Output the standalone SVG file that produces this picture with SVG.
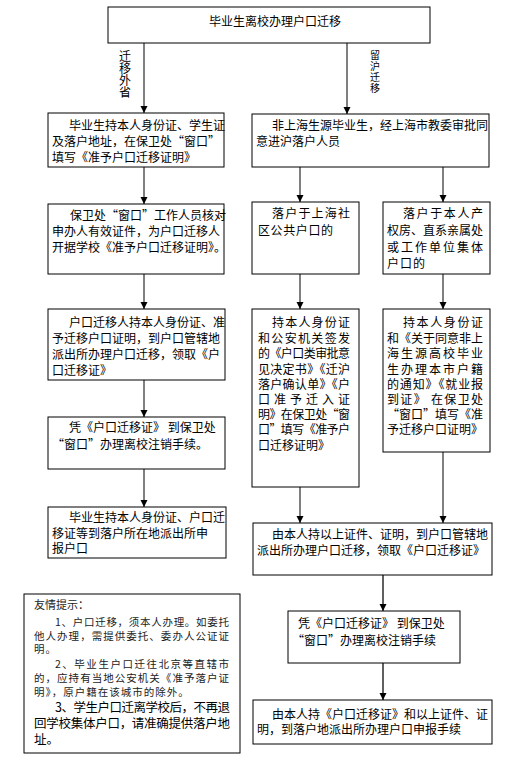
<svg xmlns="http://www.w3.org/2000/svg" width="518" height="758" viewBox="0 0 518 758">
<defs>
<marker id="ah" markerUnits="userSpaceOnUse" markerWidth="8" markerHeight="8" refX="7" refY="3.5" orient="auto">
<path d="M0,0 L7,3.5 L0,7 z" fill="#000"/>
</marker>
<style>
.box{fill:#fff;stroke:#000;stroke-width:1}
text{font-family:"Noto Sans CJK SC","Noto Sans",sans-serif;font-size:12px;fill:#000}
.c{stroke:#000;stroke-width:1;fill:none;marker-end:url(#ah)}
.g{stroke:#808080;stroke-width:2;fill:none;marker-end:url(#ah)}
.s{font-size:10.5px;fill:#222;letter-spacing:1px}
.vt{writing-mode:vertical-rl}
</style>
</defs>
<rect width="518" height="758" fill="#fff"/>

<g id="connectors">
<line class="g" x1="144" y1="43" x2="144" y2="113"/>
<line class="c" x1="347" y1="43" x2="347" y2="114"/>
<line class="g" x1="144" y1="167" x2="144" y2="204"/>
<line class="g" x1="144" y1="274" x2="144" y2="309"/>
<line class="g" x1="144" y1="380" x2="144" y2="417"/>
<line class="g" x1="144" y1="469" x2="144" y2="507"/>
<line class="c" x1="300" y1="167" x2="300" y2="202"/>
<line class="g" x1="443" y1="167" x2="443" y2="202"/>
<line class="c" x1="300" y1="274" x2="300" y2="309"/>
<line class="g" x1="443" y1="274" x2="443" y2="309"/>
<line class="c" x1="300" y1="487" x2="300" y2="523"/>
<line class="g" x1="443" y1="452" x2="443" y2="523"/>
<line class="g" x1="383" y1="575" x2="383" y2="611" style="stroke:#606060"/>
<line class="g" x1="383" y1="663" x2="383" y2="700" style="stroke:#606060"/>
</g>

<g id="labels">
<text class="vt" x="125" y="50">迁移外省</text>
<text class="vt" x="375" y="50" style="font-size:10px;letter-spacing:1px">留沪迁移</text>
</g>

<g id="title">
<rect class="box" x="108" y="7" width="322" height="36"/>
<text x="275" y="25.5" text-anchor="middle">毕业生离校办理户口迁移</text>
</g>

<g id="L1">
<rect class="box" x="48" y="113" width="176" height="54"/>
<text x="69" y="130">毕业生持本人身份证、学生证</text>
<text x="52" y="146">及落户地址，在保卫处“窗口”</text>
<text x="52" y="162">填写《准予户口迁移证明》</text>
</g>

<g id="L2">
<rect class="box" x="48" y="204" width="176" height="70"/>
<text x="70" y="220">保卫处“窗口”工作人员核对</text>
<text x="52" y="236">申办人有效证件，为户口迁移人</text>
<text x="52" y="252">开据学校《准予户口迁移证明》。</text>
</g>

<g id="L3">
<rect class="box" x="48" y="309" width="177" height="71"/>
<text x="69" y="327">户口迁移人持本人身份证、准</text>
<text x="52" y="343">予迁移户口证明，到户口管辖地</text>
<text x="52" y="359">派出所办理户口迁移，领取《户</text>
<text x="52" y="375">口迁移证》</text>
</g>

<g id="L4">
<rect class="box" x="48" y="417" width="177" height="52"/>
<text x="69" y="432">凭《户口迁移证》 到保卫处</text>
<text x="52" y="449">“窗口”办理离校注销手续。</text>
</g>

<g id="L5">
<rect class="box" x="48" y="507" width="178" height="51"/>
<text x="69" y="522">毕业生持本人身份证、户口迁</text>
<text x="52" y="538">移证等到落户所在地派出所申</text>
<text x="52" y="553">报户口</text>
</g>

<g id="R1">
<rect class="box" x="252" y="114" width="237" height="53"/>
<text x="272" y="130">非上海生源毕业生，经上海市教委审批同</text>
<text x="256" y="146">意进沪落户人员</text>
</g>

<g id="R2a">
<rect class="box" x="252" y="202" width="107" height="72"/>
<text x="272" y="218" textLength="78" lengthAdjust="spacing">落户于上海社</text>
<text x="258" y="235" textLength="75" lengthAdjust="spacing">区公共户口的</text>
</g>

<g id="R2b">
<rect class="box" x="383" y="202" width="107" height="72"/>
<text x="403" y="218" textLength="80" lengthAdjust="spacing">落户于本人产</text>
<text x="387" y="235" textLength="96" lengthAdjust="spacing">权房、直系亲属处</text>
<text x="387" y="252" textLength="96" lengthAdjust="spacing">或工作单位集体</text>
<text x="387" y="268" style="letter-spacing:1px">户口的</text>
</g>

<g id="R3a">
<rect class="box" x="252" y="309" width="107" height="178"/>
<text x="272" y="327" textLength="78" lengthAdjust="spacing">持本人身份证</text>
<text x="258" y="343" textLength="92" lengthAdjust="spacing">和公安机关签发</text>
<text x="258" y="358" textLength="92" lengthAdjust="spacing">的《户口类审批意</text>
<text x="258" y="374" textLength="92" lengthAdjust="spacing">见决定书》《迁沪</text>
<text x="258" y="389" textLength="92" lengthAdjust="spacing">落户确认单》《户</text>
<text x="258" y="404" textLength="92" lengthAdjust="spacing">口准予迁入证</text>
<text x="258" y="419" textLength="92" lengthAdjust="spacing">明》在保卫处“窗</text>
<text x="258" y="434" textLength="92" lengthAdjust="spacing">口”填写《准予户</text>
<text x="258" y="450">口迁移证明》</text>
</g>

<g id="R3b">
<rect class="box" x="383" y="309" width="107" height="143"/>
<text x="403" y="327" textLength="80" lengthAdjust="spacing">持本人身份证</text>
<text x="387" y="343" textLength="96" lengthAdjust="spacing">和《关于同意非上</text>
<text x="387" y="358" textLength="96" lengthAdjust="spacing">海生源高校毕业</text>
<text x="387" y="374" textLength="96" lengthAdjust="spacing">生办理本市户籍</text>
<text x="387" y="389" textLength="96" lengthAdjust="spacing">的通知》《就业报</text>
<text x="387" y="404" textLength="96" lengthAdjust="spacing">到证》 在保卫处</text>
<text x="387" y="419" textLength="96" lengthAdjust="spacing">“窗口”填写《准</text>
<text x="387" y="434" textLength="96" lengthAdjust="spacing">予迁移户口证明》</text>
</g>

<g id="R4">
<rect class="box" x="253" y="523" width="239" height="52"/>
<text x="272" y="539" textLength="216" lengthAdjust="spacing">由本人持以上证件、证明，到户口管辖地</text>
<text x="257" y="555">派出所办理户口迁移，领取《户口迁移证》</text>
</g>

<g id="R5">
<rect class="box" x="288" y="611" width="172" height="52"/>
<text x="298" y="628">凭《户口迁移证》 到保卫处</text>
<text x="292" y="645">“窗口”办理离校注销手续</text>
</g>

<g id="R6">
<rect class="box" x="253" y="700" width="239" height="44"/>
<text x="272" y="719" textLength="216" lengthAdjust="spacing">由本人持《户口迁移证》和以上证件、证</text>
<text x="257" y="734">明，到落户地派出所办理户口申报手续</text>
</g>

<g id="notes">
<rect class="box" x="24" y="594" width="216" height="159"/>
<text x="34" y="609" style="font-size:11px;fill:#222">友情提示：</text>
<text class="s" x="55" y="626" textLength="175" lengthAdjust="spacing">1、户口迁移，须本人办理。如委托</text>
<text class="s" x="34" y="640" textLength="196" lengthAdjust="spacing">他人办理，需提供委托、委办人公证证</text>
<text class="s" x="34" y="653">明。</text>
<text class="s" x="55" y="668" textLength="175" lengthAdjust="spacing">2、毕业生户口迁往北京等直辖市</text>
<text class="s" x="34" y="682" textLength="196" lengthAdjust="spacing">的，应持有当地公安机关《准予落户证</text>
<text class="s" x="34" y="696">明》，原户籍在该城市的除外。</text>
<text x="55" y="712" style="font-size:12.5px" textLength="175" lengthAdjust="spacing">3、学生户口迁离学校后，不再退</text>
<text x="34" y="728" style="font-size:12.5px" textLength="196" lengthAdjust="spacing">回学校集体户口，请准确提供落户地</text>
<text x="34" y="744" style="font-size:12.5px">址。</text>
</g>
</svg>
